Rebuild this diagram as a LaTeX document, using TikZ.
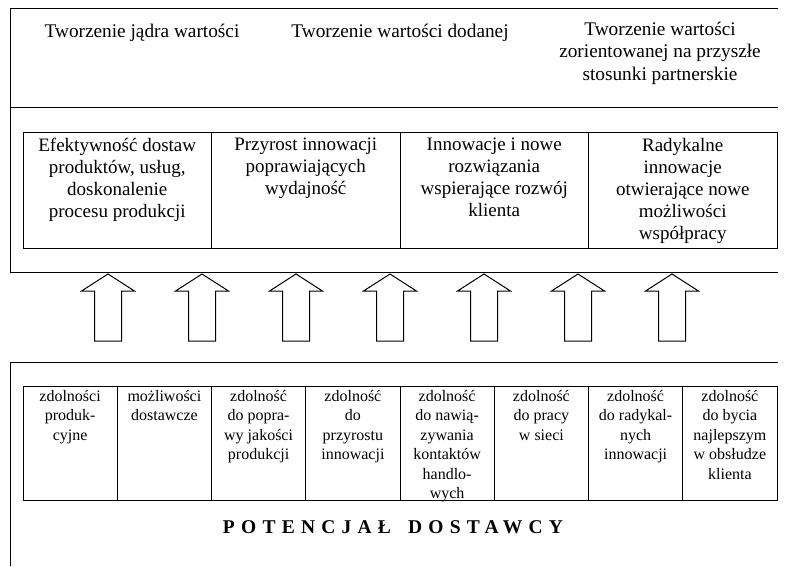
\documentclass[tikz,border=0pt]{standalone}
\usepackage{fontspec}
\setmainfont{Liberation Serif}
\usetikzlibrary{positioning}

\begin{document}
\begin{tikzpicture}[x=1pt, y=-1pt, line width=0.9pt, header/.style={align=center, inner sep=0pt, font=\fontsize{19.3}{22.5}\selectfont}, valuebox/.style={draw, minimum width=188.5pt, minimum height=116pt, inner sep=0pt}, valuetext/.style={anchor=north, align=center, inner sep=6pt, font=\fontsize{19}{22}\selectfont}, capbox/.style={draw, minimum width=94.25pt, minimum height=114pt, inner sep=0pt}, captext/.style={anchor=north, align=center, inner sep=4pt, font=\fontsize{16}{19.5}\selectfont}, upshape/.style={draw, line width=1pt}]
	\useasboundingbox (0,0) rectangle (785,566);
	% upper frame
	\draw (778,8) -- (10,8) -- (10,272) -- (778,272);
	\draw (10,107) -- (778,107);
	\node[header] (h1) at (142,33) {Tworzenie jądra wartości};
	\node[header] (h2) at (400,33) {Tworzenie wartości dodanej};
	\node[header] (h3) at (660,53) {Tworzenie wartości\\zorientowanej na przyszłe\\stosunki partnerskie};
	% value row
	\node[valuebox] (v1) at (117.25,190) {};
	\node[valuebox] (v2) at (305.75,190) {};
	\node[valuebox] (v3) at (494.25,190) {};
	\node[valuebox] (v4) at (682.75,190) {};
	\node[valuetext] (t1) at (v1.north) {Efektywność dostaw\\produktów, usług,\\doskonalenie\\procesu produkcji};
	\node[valuetext] (t2) at (v2.north) {Przyrost innowacji\\poprawiających\\wydajność};
	\node[valuetext] (t3) at (v3.north) {Innowacje i nowe\\rozwiązania\\wspierające rozwój\\klienta};
	\node[valuetext] (t4) at (v4.north) {Radykalne\\innowacje\\otwierające nowe\\możliwości\\współpracy};
	% arrows
	\draw[upshape] (108,274) -- ++(26.5,17) -- ++(-13,0) -- ++(0,50) -- ++(-27,0) -- ++(0,-50) -- ++(-13,0) -- cycle;
	\draw[upshape] (202,274) -- ++(26.5,17) -- ++(-13,0) -- ++(0,50) -- ++(-27,0) -- ++(0,-50) -- ++(-13,0) -- cycle;
	\draw[upshape] (296,274) -- ++(26.5,17) -- ++(-13,0) -- ++(0,50) -- ++(-27,0) -- ++(0,-50) -- ++(-13,0) -- cycle;
	\draw[upshape] (390,274) -- ++(26.5,17) -- ++(-13,0) -- ++(0,50) -- ++(-27,0) -- ++(0,-50) -- ++(-13,0) -- cycle;
	\draw[upshape] (484,274) -- ++(26.5,17) -- ++(-13,0) -- ++(0,50) -- ++(-27,0) -- ++(0,-50) -- ++(-13,0) -- cycle;
	\draw[upshape] (578,274) -- ++(26.5,17) -- ++(-13,0) -- ++(0,50) -- ++(-27,0) -- ++(0,-50) -- ++(-13,0) -- cycle;
	\draw[upshape] (672,274) -- ++(26.5,17) -- ++(-13,0) -- ++(0,50) -- ++(-27,0) -- ++(0,-50) -- ++(-13,0) -- cycle;
	% lower frame
	\draw (778,362) -- (10,362) -- (10,566);
	\node[capbox] (c1) at (70.1,443) {};
	\node[capbox] (c2) at (164.4,443) {};
	\node[capbox] (c3) at (258.6,443) {};
	\node[capbox] (c4) at (352.9,443) {};
	\node[capbox] (c5) at (447.1,443) {};
	\node[capbox] (c6) at (541.4,443) {};
	\node[capbox] (c7) at (635.6,443) {};
	\node[capbox] (c8) at (729.9,443) {};
	\node[captext] (k1) at (c1.north) {zdolności\\produk-\\cyjne};
	\node[captext] (k2) at (c2.north) {możliwości\\dostawcze};
	\node[captext] (k3) at (c3.north) {zdolność\\do popra-\\wy jakości\\produkcji};
	\node[captext] (k4) at (c4.north) {zdolność\\do\\przyrostu\\innowacji};
	\node[captext] (k5) at (c5.north) {zdolność\\do nawią-\\zywania\\kontaktów\\handlo-\\wych};
	\node[captext] (k6) at (c6.north) {zdolność\\do pracy\\w sieci};
	\node[captext] (k7) at (c7.north) {zdolność\\do radykal-\\nych\\innowacji};
	\node[captext] (k8) at (c8.north) {zdolność\\do bycia\\najlepszym\\w obsłudze\\klienta};
	\node[font=\fontsize{19.5}{22}\selectfont\bfseries\addfontfeature{LetterSpace=32}] (pot) at (393,527) {POTENCJAŁ\hspace{6pt} DOSTAWCY};
\end{tikzpicture}
\end{document}
